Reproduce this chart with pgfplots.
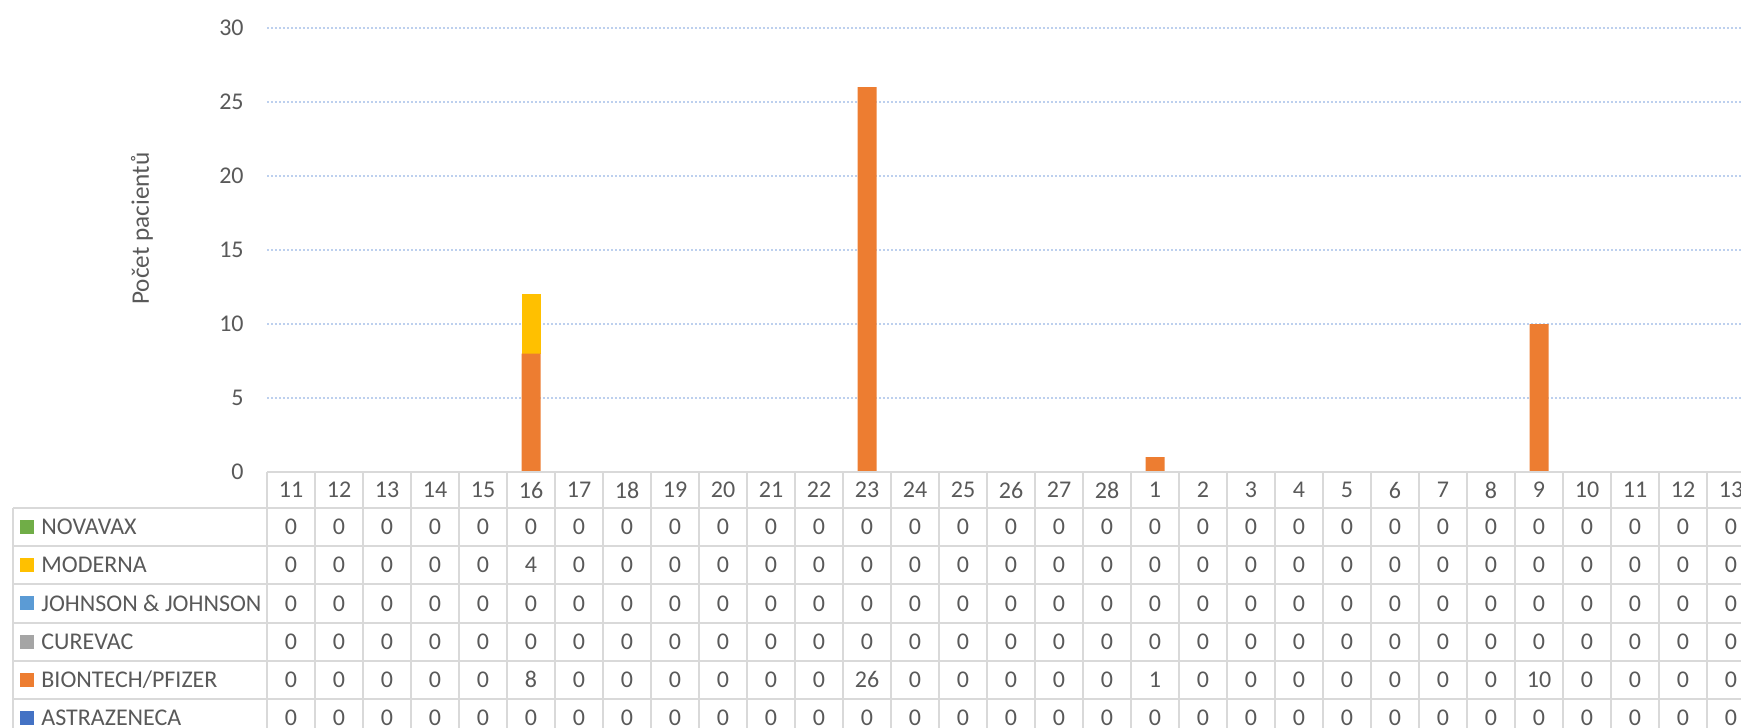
\documentclass[border=0pt]{standalone}
\usepackage{pgfplots}
\pgfplotsset{compat=1.18}
\usepackage{pgfplotstable}
\usepackage{fontspec}
\setmainfont{Carlito}
\definecolor{txt}{HTML}{595959}
\definecolor{tline}{HTML}{D9D9D9}
\definecolor{gridc}{HTML}{BDD0EE}
\definecolor{cnov}{HTML}{70AD47}
\definecolor{cmod}{HTML}{FFC000}
\definecolor{cjj}{HTML}{5B9BD5}
\definecolor{ccur}{HTML}{A5A5A5}
\definecolor{cbio}{HTML}{ED7D31}
\definecolor{cast}{HTML}{4472C4}
\pgfplotstableread{
idx lab nov mod jj cur bio ast
0 11 0 0 0 0 0 0
1 12 0 0 0 0 0 0
2 13 0 0 0 0 0 0
3 14 0 0 0 0 0 0
4 15 0 0 0 0 0 0
5 16 0 4 0 0 8 0
6 17 0 0 0 0 0 0
7 18 0 0 0 0 0 0
8 19 0 0 0 0 0 0
9 20 0 0 0 0 0 0
10 21 0 0 0 0 0 0
11 22 0 0 0 0 0 0
12 23 0 0 0 0 26 0
13 24 0 0 0 0 0 0
14 25 0 0 0 0 0 0
15 26 0 0 0 0 0 0
16 27 0 0 0 0 0 0
17 28 0 0 0 0 0 0
18 1 0 0 0 0 1 0
19 2 0 0 0 0 0 0
20 3 0 0 0 0 0 0
21 4 0 0 0 0 0 0
22 5 0 0 0 0 0 0
23 6 0 0 0 0 0 0
24 7 0 0 0 0 0 0
25 8 0 0 0 0 0 0
26 9 0 0 0 0 10 0
27 10 0 0 0 0 0 0
28 11 0 0 0 0 0 0
29 12 0 0 0 0 0 0
30 13 0 0 0 0 0 0
}\datatable
\begin{document}
\begin{tikzpicture}
\fontsize{12}{14}\selectfont
\useasboundingbox (0,0) rectangle (870.5pt,-364pt);
\clip (0,0) rectangle (870.5pt,-364pt);
\begin{axis}[
  at={(133.5pt,-236pt)}, anchor=south west,
  scale only axis, width=744pt, height=222pt,
  xmin=-0.5, xmax=30.5, ymin=0, ymax=30,
  ytick={0,5,...,30}, xtick=\empty,
  axis line style={draw=none}, tick style={draw=none},
  ymajorgrids, major grid style={color=gridc, line width=1pt, dash pattern=on 1pt off 1pt},
  yticklabel style={anchor=east, inner sep=0pt, xshift=-11.5pt, text=txt, font=\fontsize{12}{14}\selectfont},
  /pgf/number format/assume math mode=true,
  ylabel={Počet pacientů},
  ylabel style={at={(axis description cs:-0.0840,0.548)}, anchor=center, text=txt, font=\fontsize{12.6}{14}\selectfont},
  ybar stacked, bar width=9.5pt,
  clip=false,
]
\addplot[fill=cast, draw=none] table[x=idx, y=ast] {\datatable};
\addplot[fill=cbio, draw=none] table[x=idx, y=bio] {\datatable};
\addplot[fill=ccur, draw=none] table[x=idx, y=cur] {\datatable};
\addplot[fill=cjj, draw=none] table[x=idx, y=jj] {\datatable};
\addplot[fill=cmod, draw=none] table[x=idx, y=mod] {\datatable};
\addplot[fill=cnov, draw=none] table[x=idx, y=nov] {\datatable};
\end{axis}
\begin{scope}[x=0.5pt, y=-0.5pt, every node/.style={text=txt, inner sep=0pt, font=\fontsize{12}{14}\selectfont}]
  \draw[tline, line width=1pt] (267,472) -- (1760,472);
  \foreach \k in {0,...,6} {\draw[tline, line width=1pt] (13,508+38.2*\k) -- (1760,508+38.2*\k);}
  \foreach \i in {0,...,31} {\draw[tline, line width=1pt] (267+48*\i,472) -- (267+48*\i,740);}
  \draw[tline, line width=1pt] (13,508) -- (13,740);
  \foreach \i in {0,...,30} {
    \pgfplotstablegetelem{\i}{lab}\of\datatable
    \node at (291+48*\i,490) {\pgfplotsretval};
    \foreach \k/\c in {0/nov,1/mod,2/jj,3/cur,4/bio,5/ast} {
      \pgfplotstablegetelem{\i}{\c}\of\datatable
      \node at (291+48*\i,527+38.2*\k) {\pgfplotsretval};
    }
  }
  \foreach \k/\c/\n in {0/cnov/{NOVAVAX},1/cmod/{MODERNA},2/cjj/{JOHNSON \& JOHNSON},3/ccur/{CUREVAC},4/cbio/{BIONTECH/PFIZER},5/cast/{ASTRAZENECA}} {
    \fill[\c] (20,520+38.2*\k) rectangle (34,534+38.2*\k);
    \node[anchor=west] at (41,527+38.2*\k) {\n};
  }
\end{scope}
\end{tikzpicture}
\end{document}
